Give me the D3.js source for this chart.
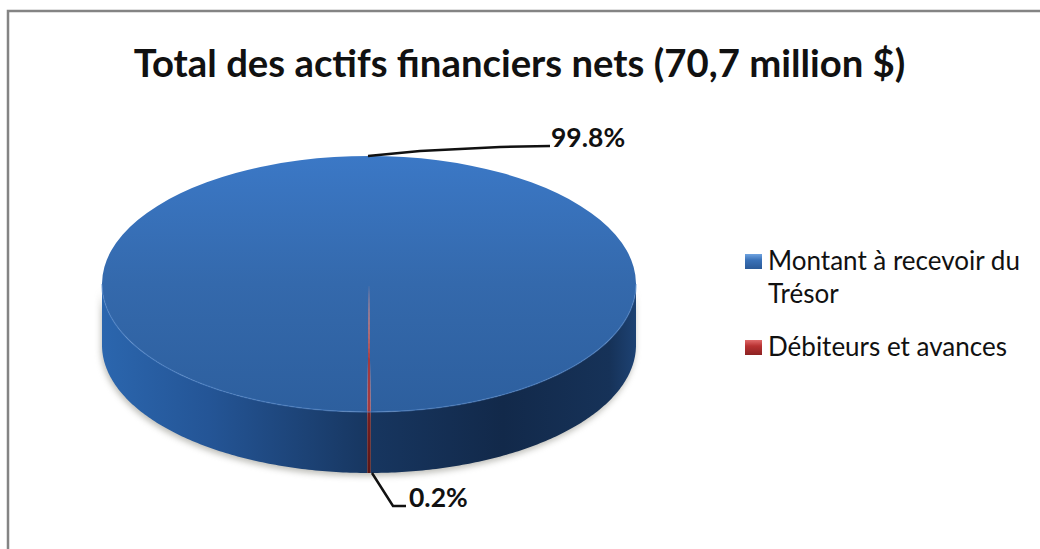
<!DOCTYPE html>
<html>
<head>
<meta charset="utf-8">
<script src="https://cdnjs.cloudflare.com/ajax/libs/d3/7.8.5/d3.min.js"></script>
<style>
  html, body { margin: 0; padding: 0; background: #fff; overflow: hidden; }
  svg { display: block; }
  text { font-family: Lato, "Open Sans", sans-serif; fill: #111; }
</style>
</head>
<body>
<script>
const categories = ['Montant à recevoir du Trésor', 'Débiteurs et avances'];
const legendLines = [['Montant à recevoir du', 'Trésor'], ['Débiteurs et avances']];
const values = [99.8, 0.2];
const valueLabels = ['99.8%', '0.2%'];
const title = 'Total des actifs financiers nets (70,7 million $)';

const width = 1040, height = 549;
const cx = 369, cy = 284, rx = 267, ry = 128, depth = 61;

const svg = d3.select('body').append('svg')
  .attr('width', width)
  .attr('height', height);

const defs = svg.append('defs');

function gradient(id, x2, y2, stops) {
  const g = defs.append('linearGradient')
    .attr('id', id)
    .attr('x1', 0).attr('y1', 0)
    .attr('x2', x2).attr('y2', y2);
  stops.forEach(s => g.append('stop').attr('offset', s[0]).attr('stop-color', s[1]));
  return g;
}

gradient('topBlue', 0, 1, [[0, '#3b78c6'], [0.5, '#3469ac'], [1, '#2d5f9e']]);
// spans the whole wall, not each half of it
gradient('wallBlue', 1, 0, [[0, '#2b66ae'], [0.2, '#245596'], [0.5, '#173660'], [0.75, '#12294a'], [0.95, '#163258'], [1, '#1d4273']])
  .attr('gradientUnits', 'userSpaceOnUse')
  .attr('x1', cx - rx).attr('x2', cx + rx).attr('y1', 0).attr('y2', 0);
gradient('wallRed', 0, 1, [[0, '#7a1f20'], [1, '#5a1616']]);
gradient('swatchBlue', 0, 1, [[0, '#6fa3e0'], [0.4, '#3a72b8'], [1, '#2a5a98']]);
gradient('swatchRed', 0, 1, [[0, '#e06a6a'], [0.4, '#b83232'], [1, '#8c2222']]);

defs.append('filter').attr('id', 'soft')
  .attr('x', '-10%').attr('y', '-10%').attr('width', '120%').attr('height', '130%')
  .append('feGaussianBlur').attr('stdDeviation', 3);

// frame, only its top and left edges are inside the picture
svg.append('path')
  .attr('d', d3.line()([[8, height], [8, 11], [width, 11]]))
  .attr('fill', 'none')
  .attr('stroke', '#848484')
  .attr('stroke-width', 2.5);

svg.append('text')
  .attr('x', 519.5).attr('y', 77)
  .attr('text-anchor', 'middle')
  .attr('font-size', 38.3)
  .attr('font-weight', 700)
  .text(title);

// pie, turned so the small slice sits at the very front
const smallShare = values[1] / d3.sum(values) * 2 * Math.PI;
const pie = d3.pie().sort(null).value(d => d)
  .startAngle(Math.PI + smallShare / 2)
  .endAngle(3 * Math.PI + smallShare / 2);
const slices = pie(values);

const px = a => cx + rx * Math.sin(a);
const py = a => cy - ry * Math.cos(a);

const sweep = (a0, a1) => d3.range(0, 121).map(i => a0 + (a1 - a0) * i / 120);

// outer wall of an angle range, only the part facing the viewer
function wallPath(a0, a1) {
  const upper = sweep(a0, a1).map(a => [px(a), py(a)]);
  const lower = sweep(a1, a0).map(a => [px(a), py(a) + depth]);
  return d3.line()(upper.concat(lower)) + 'Z';
}

const frontStart = Math.PI / 2, frontEnd = 3 * Math.PI / 2;
const redStart = slices[1].startAngle - 2 * Math.PI;
const redEnd = slices[1].endAngle - 2 * Math.PI;

// soft shadow under the disc
svg.append('path')
  .attr('d', wallPath(frontStart, frontEnd))
  .attr('transform', 'translate(-1,3)')
  .attr('fill', '#7a7a70')
  .attr('opacity', 0.5)
  .attr('filter', 'url(#soft)');

svg.append('path')
  .attr('d', wallPath(redEnd, frontEnd))
  .attr('fill', 'url(#wallBlue)');
svg.append('path')
  .attr('d', wallPath(frontStart, redStart))
  .attr('fill', 'url(#wallBlue)');
svg.append('path')
  .attr('d', wallPath(redStart, redEnd))
  .attr('fill', 'url(#wallRed)');

// top face, drawn by d3.arc in a squashed group
const arc = d3.arc().innerRadius(0).outerRadius(rx);
const topFace = svg.append('g')
  .attr('transform', `translate(${cx},${cy}) scale(1,${ry / rx})`);

topFace.selectAll('path')
  .data(slices)
  .join('path')
  .attr('d', arc)
  .attr('fill', (d, i) => i === 0 ? 'url(#topBlue)' : '#a33a40');

// light rim round the front of the top face
svg.append('path')
  .attr('d', d3.line()(sweep(frontStart, frontEnd).map(a => [px(a), py(a)])))
  .attr('fill', 'none')
  .attr('stroke', '#4f86cc')
  .attr('stroke-width', 1.5)
  .attr('opacity', 0.5);

// leader lines
svg.append('path')
  .attr('d', d3.line()([[368, 156], [420, 151], [500, 147], [550, 146]]))
  .attr('fill', 'none').attr('stroke', '#111').attr('stroke-width', 2.5);
svg.append('path')
  .attr('d', d3.line()([[372, 473], [393, 506], [406, 506]]))
  .attr('fill', 'none').attr('stroke', '#111').attr('stroke-width', 2.5);

svg.append('text')
  .attr('x', 551).attr('y', 147)
  .attr('font-size', 26.5).attr('font-weight', 700)
  .text(valueLabels[0]);
svg.append('text')
  .attr('x', 409).attr('y', 507)
  .attr('font-size', 26.5).attr('font-weight', 700)
  .text(valueLabels[1]);

// legend
const legendBase = [270, 356];
const legend = svg.append('g').selectAll('g')
  .data(categories)
  .join('g');

legend.append('rect')
  .attr('x', 745)
  .attr('y', (d, i) => legendBase[i] - 16)
  .attr('width', 17).attr('height', 15)
  .attr('fill', (d, i) => i === 0 ? 'url(#swatchBlue)' : 'url(#swatchRed)');

legend.selectAll('text')
  .data((d, i) => legendLines[i].map((t, j) => ({ t, y: legendBase[i] + j * 33 })))
  .join('text')
  .attr('x', 768)
  .attr('y', d => d.y)
  .attr('font-size', 26)
  .text(d => d.t);
</script>
</body>
</html>
